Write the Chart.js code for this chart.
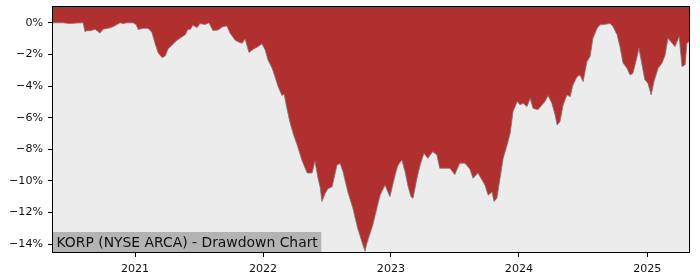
<!DOCTYPE html>
<html>
<head>
<meta charset="utf-8">
<script src="https://cdn.jsdelivr.net/npm/chart.js@4.4.1/dist/chart.umd.min.js"></script>
<style>
  body { margin: 0; background: #ffffff; }
  canvas { display: block; }
</style>
</head>
<body>
<canvas id="drawdownChart" width="700" height="280"></canvas>
<script>
// drawdown values (%)
const dates = [
    '2020-05-12', '2020-06-10', '2020-06-30', '2020-07-17', '2020-08-06', '2020-08-11', '2020-08-17', '2020-08-26',
    '2020-09-03', '2020-09-09', '2020-09-23', '2020-10-02', '2020-10-16', '2020-10-30', '2020-11-11', '2020-11-19',
    '2020-11-28', '2020-12-09', '2020-12-26', '2021-01-04', '2021-01-10', '2021-01-24', '2021-02-07', '2021-02-18',
    '2021-02-27', '2021-03-08', '2021-03-19', '2021-03-28', '2021-04-05', '2021-04-17', '2021-05-01', '2021-05-09',
    '2021-05-24', '2021-06-01', '2021-06-07', '2021-06-15', '2021-06-27', '2021-07-05', '2021-07-20', '2021-07-31',
    '2021-08-11', '2021-08-26', '2021-09-09', '2021-09-20', '2021-09-29', '2021-10-13', '2021-10-22', '2021-11-02',
    '2021-11-11', '2021-11-22', '2021-12-04', '2021-12-18', '2021-12-29', '2022-01-07', '2022-01-15', '2022-01-27',
    '2022-02-04', '2022-02-13', '2022-02-24', '2022-03-02', '2022-03-11', '2022-03-19', '2022-03-28', '2022-04-08',
    '2022-04-22', '2022-05-07', '2022-05-21', '2022-05-29', '2022-06-07', '2022-06-13', '2022-06-18', '2022-06-27',
    '2022-07-05', '2022-07-17', '2022-07-31', '2022-08-09', '2022-08-17', '2022-08-31', '2022-09-14', '2022-09-28',
    '2022-10-13', '2022-10-19', '2022-10-25', '2022-10-27', '2022-11-10', '2022-11-22', '2022-12-01', '2022-12-15',
    '2022-12-29', '2023-01-13', '2023-01-21', '2023-02-01', '2023-02-10', '2023-02-19', '2023-02-27', '2023-03-05',
    '2023-03-16', '2023-03-25', '2023-04-05', '2023-04-16', '2023-04-30', '2023-05-12', '2023-05-20', '2023-06-04',
    '2023-06-18', '2023-07-02', '2023-07-16', '2023-07-31', '2023-08-14', '2023-08-23', '2023-09-06', '2023-09-26',
    '2023-10-05', '2023-10-16', '2023-10-22', '2023-10-30', '2023-11-08', '2023-11-17', '2023-11-28', '2023-12-07',
    '2023-12-15', '2023-12-27', '2024-01-04', '2024-01-13', '2024-01-24', '2024-02-02', '2024-02-10', '2024-02-24',
    '2024-03-07', '2024-03-15', '2024-03-24', '2024-04-04', '2024-04-13', '2024-04-19', '2024-04-27', '2024-05-06',
    '2024-05-17', '2024-05-26', '2024-06-03', '2024-06-15', '2024-06-23', '2024-07-02', '2024-07-13', '2024-07-22',
    '2024-07-30', '2024-08-11', '2024-08-19', '2024-09-08', '2024-09-17', '2024-09-25', '2024-10-07', '2024-10-15',
    '2024-10-24', '2024-11-04', '2024-11-13', '2024-11-21', '2024-12-03', '2024-12-08', '2024-12-17', '2024-12-25',
    '2025-01-03', '2025-01-12', '2025-01-20', '2025-02-01', '2025-02-12', '2025-02-21', '2025-03-01', '2025-03-13',
    '2025-03-21', '2025-04-02', '2025-04-10', '2025-04-19', '2025-04-24', '2025-04-30'
];
const drawdown = [
    0.0, 0.0, -0.05, -0.02, 0.0, -0.55, -0.5, -0.5,
    -0.45, -0.4, -0.65, -0.4, -0.35, -0.25, -0.1, 0.0,
    -0.05, 0.0, 0.0, -0.1, -0.42, -0.35, -0.35, -0.6,
    -1.3, -1.9, -2.2, -2.1, -1.65, -1.4, -1.1, -0.97,
    -0.76, -0.4, -0.44, -0.15, -0.3, -0.05, -0.1, 0.0,
    -0.49, -0.45, -0.23, -0.2, -0.65, -1.08, -1.2, -1.3,
    -1.03, -1.88, -1.67, -1.5, -1.33, -1.71, -2.34, -2.87,
    -3.4, -4.03, -4.6, -4.5, -5.5, -6.3, -7.0, -7.7,
    -8.7, -9.5, -9.5, -8.75, -9.84, -10.4, -11.3, -10.8,
    -10.5, -10.37, -9.0, -8.9, -9.4, -10.7, -11.7, -13.0,
    -14.06, -14.45, -13.85, -13.74, -12.8, -11.7, -10.9, -10.26,
    -11.0, -9.6, -9.0, -8.68, -9.4, -10.37, -11.0, -11.1,
    -9.84, -9.0, -8.25, -8.57, -8.15, -8.36, -9.2, -9.2,
    -9.2, -9.6, -8.88, -8.88, -9.25, -9.84, -9.5, -10.26,
    -10.9, -10.7, -11.3, -11.1, -9.84, -8.57, -7.73, -6.99,
    -5.62, -4.98, -5.19, -5.09, -5.3, -4.77, -5.4, -5.5,
    -5.19, -4.98, -4.6, -5.09, -5.83, -6.46, -6.25, -5.19,
    -4.56, -4.67, -3.93, -3.4, -3.3, -3.72, -2.45, -2.13,
    -0.97, -0.34, -0.13, -0.08, -0.04, -0.23, -0.76, -1.5,
    -2.55, -2.87, -3.3, -3.19, -2.13, -1.6, -2.66, -3.6,
    -3.82, -4.56, -3.72, -2.87, -2.55, -2.03, -0.97, -1.29,
    -1.5, -0.87, -2.77, -2.66, -1.29, -1.2
];
const yearTicks = ['2021', '2022', '2023', '2024', '2025'];
const yTicks = [0, -2, -4, -6, -8, -10, -12, -14];
const chartTitle = 'KORP (NYSE ARCA) - Drawdown Chart';

const FONT = '"DejaVu Sans", sans-serif';
const toTime = d => Date.parse(d + 'T00:00:00Z');

// plot background, frame and the label box in the lower left corner
const framePlugin = {
    id: 'frame',
    beforeDatasetsDraw(chart) {
        const { ctx, chartArea: a } = chart;
        ctx.save();
        ctx.fillStyle = '#ececec';
        ctx.fillRect(a.left, a.top, a.right - a.left, a.bottom - a.top);
        ctx.restore();
    },
    afterDraw(chart) {
        const { ctx, chartArea: a } = chart;
        ctx.save();
        ctx.font = '13.9px ' + FONT;
        const w = ctx.measureText(chartTitle).width;
        ctx.fillStyle = '#b3b3b3';
        ctx.fillRect(a.left, a.bottom - 20, w + 7, 20);
        ctx.fillStyle = '#111';
        ctx.textBaseline = 'alphabetic';
        ctx.fillText(chartTitle, a.left + 3.5, a.bottom - 5.5);
        ctx.strokeStyle = '#000';
        ctx.lineWidth = 1;
        ctx.strokeRect(a.left - 0.5, a.top - 0.5, a.right - a.left + 1, a.bottom - a.top + 1);
        ctx.restore();
    }
};

const ctx = document.getElementById('drawdownChart').getContext('2d');
new Chart(ctx, {
    type: 'line',
    data: {
        datasets: [{
            data: dates.map((d, i) => ({ x: toTime(d), y: drawdown[i] })),
            fill: 'end',
            backgroundColor: '#b03030',
            borderColor: 'rgba(120,120,120,0.8)',
            borderWidth: 1,
            pointRadius: 0,
            tension: 0
        }]
    },
    options: {
        responsive: false,
        animation: false,
        layout: { padding: { top: 7, right: 11, bottom: 0, left: 0 } },
        plugins: { legend: { display: false }, tooltip: { enabled: false } },
        scales: {
            x: {
                type: 'linear',
                min: toTime(dates[0]),
                max: toTime(dates[dates.length - 1]),
                afterBuildTicks: scale => { scale.ticks = yearTicks.map(y => ({ value: toTime(y + '-01-01') })); },
                afterFit: scale => {
                    scale.height = 28;
                    scale.paddingLeft = 0;
                    scale.paddingRight = 0;
                },
                grid: { drawOnChartArea: false, drawTicks: true, tickLength: 5, tickColor: '#000' },
                border: { display: true, color: '#000' },
                ticks: {
                    autoSkip: false,
                    maxRotation: 0,
                    padding: 5,
                    color: '#111',
                    font: { family: FONT, size: 11.1 },
                    callback: v => new Date(v).getUTCFullYear()
                }
            },
            y: {
                min: -14.5,
                max: 1.0,
                afterBuildTicks: scale => { scale.ticks = yTicks.map(v => ({ value: v })); },
                afterFit: scale => {
                    scale.width = 53;
                    scale.paddingTop = 0;
                    scale.paddingBottom = 0;
                },
                grid: { drawOnChartArea: false, drawTicks: true, tickLength: 5, tickColor: '#000' },
                border: { display: true, color: '#000' },
                ticks: {
                    autoSkip: false,
                    padding: 5,
                    color: '#111',
                    font: { family: FONT, size: 11.1 },
                    callback: v => (v < 0 ? '\u2212' + Math.abs(v) : v) + '%'
                }
            }
        }
    },
    plugins: [framePlugin]
});
</script>
</body>
</html>
